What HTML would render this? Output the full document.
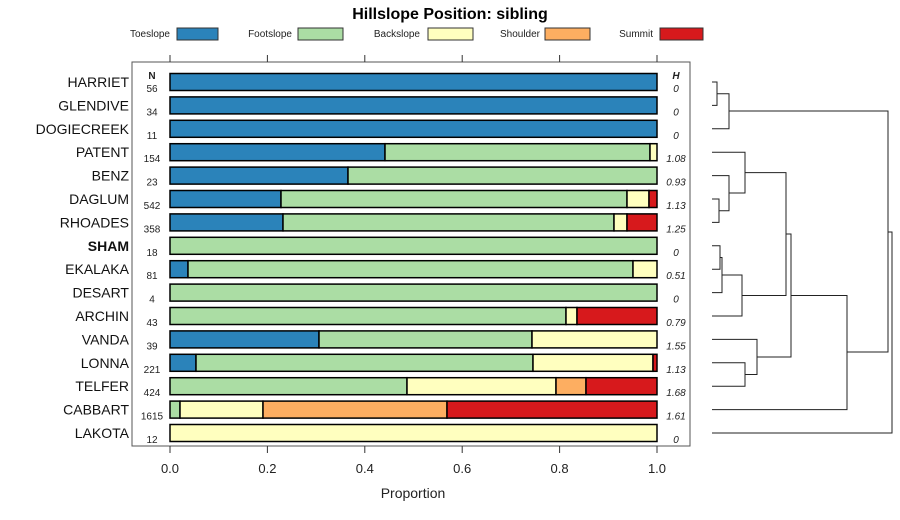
<!DOCTYPE html>
<html><head><meta charset="utf-8"><style>
html,body{margin:0;padding:0;background:#fff;}
svg{display:block;font-family:"Liberation Sans",sans-serif;}
</style></head><body>
<svg width="900" height="520" viewBox="0 0 900 520" xmlns="http://www.w3.org/2000/svg">
<text x="450" y="19" font-size="16" font-weight="bold" text-anchor="middle">Hillslope Position: sibling</text>
<g font-size="10" fill="#222">
<text x="170" y="37" text-anchor="end">Toeslope</text>
<rect x="177" y="28" width="41" height="12" fill="#2B83BA" stroke="#333"/>
<text x="292" y="37" text-anchor="end">Footslope</text>
<rect x="298" y="28" width="45" height="12" fill="#ABDDA4" stroke="#333"/>
<text x="420" y="37" text-anchor="end">Backslope</text>
<rect x="428" y="28" width="45" height="12" fill="#FFFFBF" stroke="#333"/>
<text x="540" y="37" text-anchor="end">Shoulder</text>
<rect x="545" y="28" width="45" height="12" fill="#FDAE61" stroke="#333"/>
<text x="653" y="37" text-anchor="end">Summit</text>
<rect x="660" y="28" width="43" height="12" fill="#D7191C" stroke="#333"/>
</g>
<rect x="132" y="62" width="558" height="384" fill="none" stroke="#555"/>
<g stroke="#333">
<line x1="170" y1="55" x2="170" y2="62"/><line x1="267.4" y1="55" x2="267.4" y2="62"/><line x1="364.8" y1="55" x2="364.8" y2="62"/><line x1="462.2" y1="55" x2="462.2" y2="62"/><line x1="559.6" y1="55" x2="559.6" y2="62"/><line x1="657" y1="55" x2="657" y2="62"/>
<line x1="170" y1="446" x2="170" y2="453"/><line x1="267.4" y1="446" x2="267.4" y2="453"/><line x1="364.8" y1="446" x2="364.8" y2="453"/><line x1="462.2" y1="446" x2="462.2" y2="453"/><line x1="559.6" y1="446" x2="559.6" y2="453"/><line x1="657" y1="446" x2="657" y2="453"/>
</g>
<g font-size="13" text-anchor="middle" fill="#222">
<text x="170" y="473">0.0</text><text x="267.4" y="473">0.2</text><text x="364.8" y="473">0.4</text><text x="462.2" y="473">0.6</text><text x="559.6" y="473">0.8</text><text x="657" y="473">1.0</text>
<text x="413" y="498" font-size="14">Proportion</text>
</g>
<g font-size="14" text-anchor="end" fill="#111">
<text x="129" y="87">HARRIET</text><text x="129" y="110.4">GLENDIVE</text><text x="129" y="133.8">DOGIECREEK</text><text x="129" y="157.2">PATENT</text><text x="129" y="180.6">BENZ</text><text x="129" y="204">DAGLUM</text><text x="129" y="227.4">RHOADES</text><text x="129" y="250.8" font-weight="bold">SHAM</text><text x="129" y="274.2">EKALAKA</text><text x="129" y="297.6">DESART</text><text x="129" y="321">ARCHIN</text><text x="129" y="344.4">VANDA</text><text x="129" y="367.8">LONNA</text><text x="129" y="391.2">TELFER</text><text x="129" y="414.6">CABBART</text><text x="129" y="438">LAKOTA</text>
</g>
<g font-size="10" text-anchor="middle" fill="#222">
<text x="152" y="79" font-weight="bold">N</text>
<text x="152" y="92">56</text><text x="152" y="115.4">34</text><text x="152" y="138.8">11</text><text x="152" y="162.2">154</text><text x="152" y="185.6">23</text><text x="152" y="209">542</text><text x="152" y="232.4">358</text><text x="152" y="255.8">18</text><text x="152" y="279.2">81</text><text x="152" y="302.6">4</text><text x="152" y="326">43</text><text x="152" y="349.4">39</text><text x="152" y="372.8">221</text><text x="152" y="396.2">424</text><text x="152" y="419.6">1615</text><text x="152" y="443">12</text>
</g>
<g font-size="10" text-anchor="middle" font-style="italic" fill="#222">
<text x="676" y="79" font-weight="bold">H</text>
<text x="676" y="92">0</text><text x="676" y="115.4">0</text><text x="676" y="138.8">0</text><text x="676" y="162.2">1.08</text><text x="676" y="185.6">0.93</text><text x="676" y="209">1.13</text><text x="676" y="232.4">1.25</text><text x="676" y="255.8">0</text><text x="676" y="279.2">0.51</text><text x="676" y="302.6">0</text><text x="676" y="326">0.79</text><text x="676" y="349.4">1.55</text><text x="676" y="372.8">1.13</text><text x="676" y="396.2">1.68</text><text x="676" y="419.6">1.61</text><text x="676" y="443">0</text>
</g>
<g stroke="#000" stroke-width="1.5">
<rect x="170" y="73.5" width="487" height="17" fill="#2B83BA"/>
<rect x="170" y="96.9" width="487" height="17" fill="#2B83BA"/>
<rect x="170" y="120.3" width="487" height="17" fill="#2B83BA"/>
<rect x="170" y="143.7" width="215" height="17" fill="#2B83BA"/><rect x="385" y="143.7" width="265" height="17" fill="#ABDDA4"/><rect x="650" y="143.7" width="7" height="17" fill="#FFFFBF"/>
<rect x="170" y="167.1" width="178" height="17" fill="#2B83BA"/><rect x="348" y="167.1" width="309" height="17" fill="#ABDDA4"/>
<rect x="170" y="190.5" width="111" height="17" fill="#2B83BA"/><rect x="281" y="190.5" width="346" height="17" fill="#ABDDA4"/><rect x="627" y="190.5" width="22" height="17" fill="#FFFFBF"/><rect x="649" y="190.5" width="8" height="17" fill="#D7191C"/>
<rect x="170" y="213.9" width="113" height="17" fill="#2B83BA"/><rect x="283" y="213.9" width="331" height="17" fill="#ABDDA4"/><rect x="614" y="213.9" width="13" height="17" fill="#FFFFBF"/><rect x="627" y="213.9" width="30" height="17" fill="#D7191C"/>
<rect x="170" y="237.3" width="487" height="17" fill="#ABDDA4"/>
<rect x="170" y="260.7" width="18" height="17" fill="#2B83BA"/><rect x="188" y="260.7" width="445" height="17" fill="#ABDDA4"/><rect x="633" y="260.7" width="24" height="17" fill="#FFFFBF"/>
<rect x="170" y="284.1" width="487" height="17" fill="#ABDDA4"/>
<rect x="170" y="307.5" width="396" height="17" fill="#ABDDA4"/><rect x="566" y="307.5" width="11" height="17" fill="#FFFFBF"/><rect x="577" y="307.5" width="80" height="17" fill="#D7191C"/>
<rect x="170" y="330.9" width="149" height="17" fill="#2B83BA"/><rect x="319" y="330.9" width="213" height="17" fill="#ABDDA4"/><rect x="532" y="330.9" width="125" height="17" fill="#FFFFBF"/>
<rect x="170" y="354.3" width="26" height="17" fill="#2B83BA"/><rect x="196" y="354.3" width="337" height="17" fill="#ABDDA4"/><rect x="533" y="354.3" width="120" height="17" fill="#FFFFBF"/><rect x="653" y="354.3" width="4" height="17" fill="#D7191C"/>
<rect x="170" y="377.7" width="237" height="17" fill="#ABDDA4"/><rect x="407" y="377.7" width="149" height="17" fill="#FFFFBF"/><rect x="556" y="377.7" width="30" height="17" fill="#FDAE61"/><rect x="586" y="377.7" width="71" height="17" fill="#D7191C"/>
<rect x="170" y="401.1" width="10" height="17" fill="#ABDDA4"/><rect x="180" y="401.1" width="83" height="17" fill="#FFFFBF"/><rect x="263" y="401.1" width="184" height="17" fill="#FDAE61"/><rect x="447" y="401.1" width="210" height="17" fill="#D7191C"/>
<rect x="170" y="424.5" width="487" height="17" fill="#FFFFBF"/>
</g>
<g stroke="#222" fill="none" stroke-width="1">
<path d="M712 82H717V105.4H712"/>
<path d="M717 93.7H729V128.8H712"/>
<path d="M729 111H888V352H847"/>
<path d="M712 199H719V222.4H712"/>
<path d="M712 175.6H729V210.7H719"/>
<path d="M712 152.2H745V193H729"/>
<path d="M712 245.8H720V269.2H712"/>
<path d="M720 257.5H722V292.6H712"/>
<path d="M722 275H742V316H712"/>
<path d="M745 172.6H786V295.5H742"/>
<path d="M712 362.8H745V386.2H712"/>
<path d="M712 339.4H757V374.5H745"/>
<path d="M786 234H791V357H757"/>
<path d="M791 295.5H847V409.6H712"/>
<path d="M888 232H892V433H712"/>
</g>
</svg>
</body></html>
